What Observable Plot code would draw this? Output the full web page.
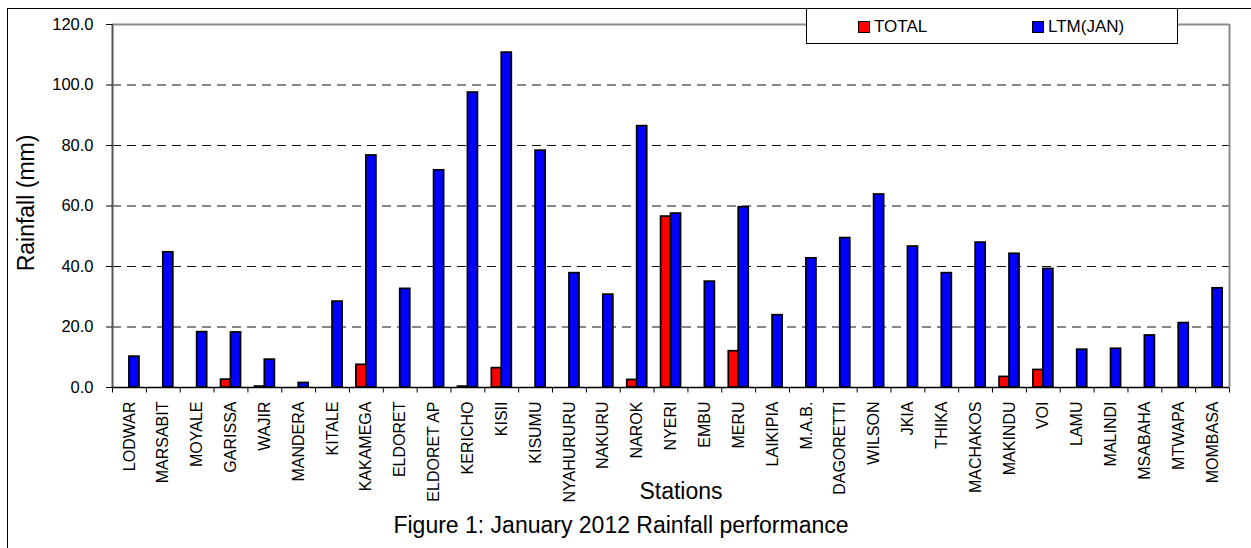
<!DOCTYPE html>
<html>
<head>
<meta charset="utf-8">
<script src="https://cdn.jsdelivr.net/npm/d3@7"></script>
<script src="https://cdn.jsdelivr.net/npm/@observablehq/plot@0.6"></script>
<style>
  html, body { margin: 0; padding: 0; background: white; }
  #wrap { position: relative; width: 1251px; height: 548px; overflow: hidden; font-family: "Liberation Sans", Arial, sans-serif; }
  #border { position: absolute; left: 7px; top: 8px; width: 1300px; height: 600px; border-top: 1px solid black; border-left: 1px solid black; pointer-events: none; z-index: 2; }
  #legend { position: absolute; left: 806px; top: 8px; width: 370px; height: 34px; border: 1px solid black; background: white; z-index: 3; font-size: 17px; color: black; }
  .sw { position: absolute; top: 12px; width: 10px; height: 10px; border: 1.5px solid black; }
  .lt { position: absolute; top: 8px; line-height: 20px; }
  .cap { position: absolute; z-index: 3; font-size: 23px; color: black; white-space: nowrap; transform: translateX(-50%); }
</style>
</head>
<body>
<div id="wrap">
  <div id="chart"></div>
  <div id="border"></div>
  <div id="legend"></div>
  <div class="cap" id="xtitle" style="left:681px; top:478px;"></div>
  <div class="cap" id="caption" style="left:621px; top:512px;"></div>
</div>
<script>
const stations = ["LODWAR","MARSABIT","MOYALE","GARISSA","WAJIR","MANDERA","KITALE","KAKAMEGA","ELDORET","ELDORET AP","KERICHO","KISII","KISUMU","NYAHURURU","NAKURU","NAROK","NYERI","EMBU","MERU","LAIKIPIA","M.A.B.","DAGORETTI","WILSON","JKIA","THIKA","MACHAKOS","MAKINDU","VOI","LAMU","MALINDI","MSABAHA","MTWAPA","MOMBASA"];
const total = [null,null,null,2.6,0.3,null,null,7.5,null,null,0.3,6.4,null,null,null,2.5,56.5,null,12.0,null,null,null,null,null,null,null,3.5,5.8,null,null,null,null,null];
const ltm = [10.2,44.7,18.3,18.2,9.2,1.5,28.4,76.7,32.6,71.8,97.5,110.7,78.3,37.8,30.7,86.4,57.5,35.0,59.6,23.9,42.7,49.4,63.8,46.6,37.8,47.9,44.2,39.2,12.5,12.8,17.2,21.3,32.8];
const seriesNames = ["TOTAL", "LTM(JAN)"];
const seriesColors = ["#ff0000", "#0000ff"];
const yTicks = [0, 20, 40, 60, 80, 100, 120];
const yTitle = "Rainfall (mm)";
const xTitle = "Stations";
const captionText = "Figure 1: January 2012 Rainfall performance";

const rows = stations.map((s, i) => ({station: s, total: total[i], ltm: ltm[i]}));

const W = 1251, H = 548, mL = 112, mR = 22, mT = 24, mB = 161;
const bw = (W - mL - mR) / stations.length;

// custom symbol: short vertical tick below axis
const tickDown = { draw(ctx) { ctx.moveTo(0, 0); ctx.lineTo(0, 5); } };

const chart = Plot.plot({
  width: W, height: H,
  marginLeft: mL, marginRight: mR, marginTop: mT, marginBottom: mB,
  style: { fontFamily: "Liberation Sans, Arial, sans-serif", background: "transparent", overflow: "visible", color: "black" },
  x: { type: "band", domain: stations, padding: 0, round: false },
  y: { domain: [0, 120] },
  marks: [
    Plot.ruleY(yTicks.filter(v => v > 0 && v < 120), { stroke: "#111", strokeWidth: 1, strokeDasharray: "9,6" }),
    Plot.ruleY([120], { stroke: "#8c8c8c", strokeWidth: 2 }),
    Plot.ruleX([stations[stations.length - 1]], { y1: 0, y2: 120, dx: bw / 2, stroke: "#8c8c8c", strokeWidth: 2 }),
    Plot.barY(rows.filter(d => d.total != null), { x: "station", y: "total", fill: seriesColors[0], stroke: "black", strokeWidth: 1.7, insetLeft: bw * 0.207, insetRight: bw * 0.5 }),
    Plot.barY(rows, { x: "station", y: "ltm", fill: seriesColors[1], stroke: "black", strokeWidth: 1.7, insetLeft: bw * 0.5, insetRight: bw * 0.203 }),
    Plot.ruleX([stations[0]], { y1: 0, y2: 120, dx: -bw / 2, stroke: "#555", strokeWidth: 2 }),
    Plot.ruleY([0], { stroke: "black", strokeWidth: 1.5 }),
    Plot.dot(stations, { x: d => d, y: () => 0, dx: -bw / 2, symbol: tickDown, stroke: "black", strokeWidth: 1, fill: "none" }),
    Plot.dot([stations[stations.length - 1]], { x: d => d, y: () => 0, dx: bw / 2, symbol: tickDown, stroke: "black", strokeWidth: 1, fill: "none" }),
    Plot.axisY({ ticks: yTicks, tickFormat: d3.format(".1f"), tickSize: 6, tickPadding: 13, fontSize: 16.5, label: null }),
    Plot.axisX({ tickSize: 0, tickRotate: -90, tickPadding: 14, fontSize: 16, label: null }),
    Plot.text([yTitle], { frameAnchor: "left", textAnchor: "middle", rotate: -90, dx: -86, dy: -3, fontSize: 23, fill: "black" })
  ]
});
document.getElementById("chart").appendChild(chart);

// legend
const lg = document.getElementById("legend");
const legendPos = [{sw: 51, tx: 67}, {sw: 225, tx: 241}];
seriesNames.forEach((name, i) => {
  const sw = document.createElement("div");
  sw.className = "sw";
  sw.style.left = legendPos[i].sw + "px";
  sw.style.background = seriesColors[i];
  lg.appendChild(sw);
  const t = document.createElement("div");
  t.className = "lt";
  t.style.left = legendPos[i].tx + "px";
  t.textContent = name;
  lg.appendChild(t);
});
document.getElementById("xtitle").textContent = xTitle;
document.getElementById("caption").textContent = captionText;
</script>
</body>
</html>
